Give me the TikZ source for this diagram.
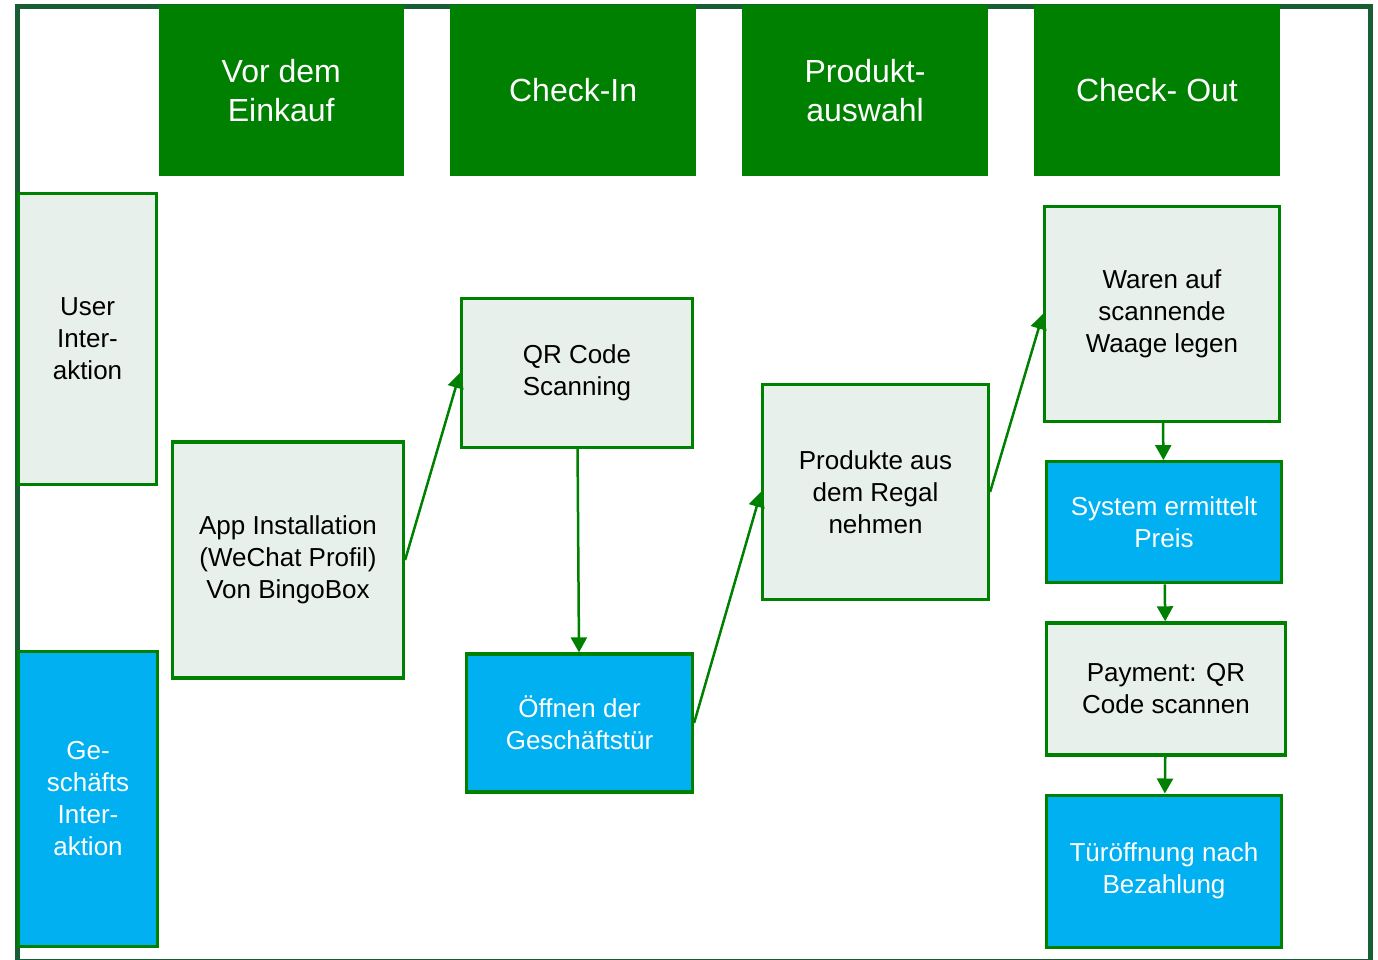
\documentclass[tikz,border=0pt]{standalone}
\usepackage{fontspec}
\setmainfont{Liberation Sans}
\usepackage{tikz}
\usetikzlibrary{arrows.meta, positioning}
\definecolor{bingogreen}{RGB}{0,128,0}
\definecolor{framegreen}{RGB}{24,94,52}
\definecolor{userfill}{RGB}{232,240,236}
\definecolor{bizblue}{RGB}{0,176,240}

\begin{document}
\begin{tikzpicture}[
  x=1pt, y=-1pt,
  font=\fontsize{26}{32}\selectfont,
  phase/.style={rectangle, fill=bingogreen, text=white, align=center,
              minimum width=245.5pt, minimum height=171pt, inner sep=0pt,
              font=\fontsize{32}{39}\selectfont},
  userbox/.style={rectangle, draw=bingogreen, line width=3.2pt, fill=userfill,
              align=center, inner sep=0pt},
  bizbox/.style={rectangle, draw=bingogreen, line width=3.2pt, fill=bizblue,
              text=white, align=center, inner sep=0pt},
  arr/.style={-{Triangle[length=15pt,width=16pt]}, line width=2.5pt, bingogreen},
]

\useasboundingbox (0,0) rectangle (1378,960);
\draw[framegreen, line width=5pt] (17,7) rectangle (1370,961);

\node[phase] (before) at (281.25,90.5) {Vor dem\\Einkauf};
\node[phase, right=46pt of before] (checkin) {Check-In};
\node[phase, right=46pt of checkin] (choice) {Produkt-\\auswahl};
\node[phase, right=46pt of choice] (checkout) {Check- Out};

\node[userbox, minimum width=138pt, minimum height=291pt] (user) at (87.5,339) {User\\Inter-\\aktion};
\node[bizbox, minimum width=139pt, minimum height=295pt] (biz) at (88,799) {Ge-\\schäfts\\Inter-\\aktion};

\node[userbox, minimum width=231pt, minimum height=236pt] (app) at (288,560) {App Installation\\(WeChat Profil)\\Von BingoBox};
\node[userbox, minimum width=231pt, minimum height=149pt] (qr) at (577,373) {QR Code\\Scanning};
\node[bizbox, minimum width=226pt, minimum height=138pt] (door) at (579.5,723) {Öffnen der\\Geschäftstür};
\node[userbox, minimum width=226pt, minimum height=215pt] (shelf) at (875.5,492) {Produkte aus\\dem Regal\\nehmen};
\node[userbox, minimum width=235pt, minimum height=215pt] (scale) at (1162,314) {Waren auf\\scannende\\Waage legen};
\node[bizbox, minimum width=235pt, minimum height=121pt, below=37pt of scale, xshift=2pt] (price) {System ermittelt\\Preis};
\node[userbox, minimum width=239pt, minimum height=132pt, below=37pt of price, xshift=2pt] (pay) {Payment: QR\\Code scannen};
\node[bizbox, minimum width=235pt, minimum height=152pt, below=37pt of pay, xshift=-2pt] (exit) {Türöffnung nach\\Bezahlung};

\draw[arr] (app.east) -- (qr.west);
\draw[arr] (qr) -- (door);
\draw[arr] (door.east) -- (shelf.west);
\draw[arr] (shelf.east) -- (scale.west);
\draw[arr] (scale) -- (price);
\draw[arr] (price) -- (pay);
\draw[arr] (pay) -- (exit);

\end{tikzpicture}
\end{document}
